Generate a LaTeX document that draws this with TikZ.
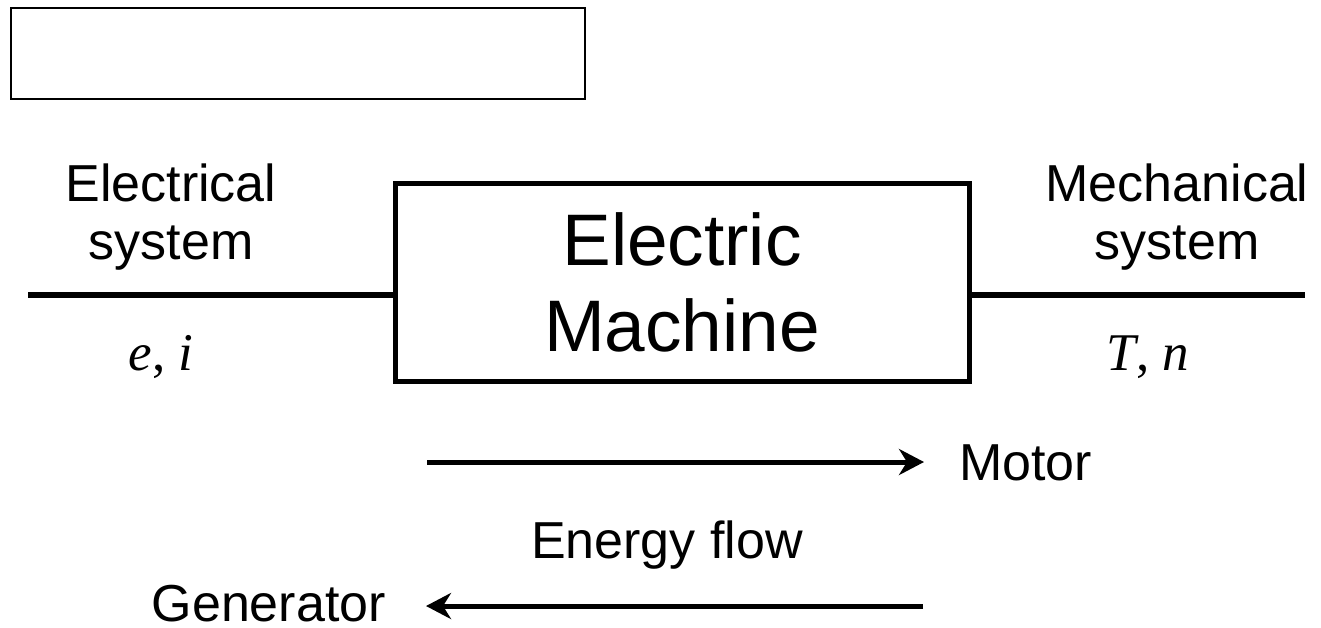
\documentclass[tikz,border=0pt]{standalone}
\usepackage{fontspec}
\setmainfont{Liberation Sans}
\newfontfamily\tmsfont{Liberation Serif}
\usetikzlibrary{arrows.meta}
\begin{document}
\begin{tikzpicture}[x=1pt,y=-1pt,
  lbl/.style={inner sep=0pt,align=center,font=\fontsize{52}{58}\selectfont},
  onelbl/.style={inner sep=0pt,font=\fontsize{52}{58}\selectfont},
  mathlbl/.style={inner sep=0pt,font=\tmsfont\fontsize{53}{58}\selectfont},
  wire/.style={line width=6pt},
  flow/.style={line width=5pt,-{Stealth[length=25pt,width=26pt,inset=8pt]}},
  machine/.style={draw,line width=5pt,minimum width=574pt,minimum height=198pt,inner sep=0pt,align=center,font=\fontsize{73}{86}\selectfont}]
\useasboundingbox (0,0) rectangle (1321,627);
\node[draw,line width=2.5pt,minimum width=574pt,minimum height=91pt,inner sep=0pt] (blank) at (298,53.5) {};
\node[machine] (em) at (682,282) {Electric\\Machine};
\coordinate (lw) at (28,295);
\coordinate (rw) at (1305,295);
\draw[wire] (lw) -- (em.west |- lw);
\draw[wire] (em.east |- rw) -- (rw);
\node[lbl] (elec) at (171,217) {Electrical\\system};
\node[lbl] (mech) at (1177,217) {Mechanical\\system};
\node[mathlbl,anchor=base] (ei) at (161,370) {\itshape e\upshape, \itshape i};
\node[mathlbl,anchor=base] (tn) at (1148,370) {\itshape T\upshape, \itshape n};
\coordinate (m0) at (427,462);
\coordinate (m1) at (924,462);
\draw[flow] (m0) -- (m1);
\node[onelbl,anchor=base west] (motor) at (959,480) {Motor};
\node[onelbl,anchor=base] (ef) at (667,558) {Energy flow};
\coordinate (g0) at (923,606);
\coordinate (g1) at (426,606);
\draw[flow] (g0) -- (g1);
\node[onelbl,anchor=base east] (gen) at (386,621) {Generator};
\end{tikzpicture}
\end{document}
